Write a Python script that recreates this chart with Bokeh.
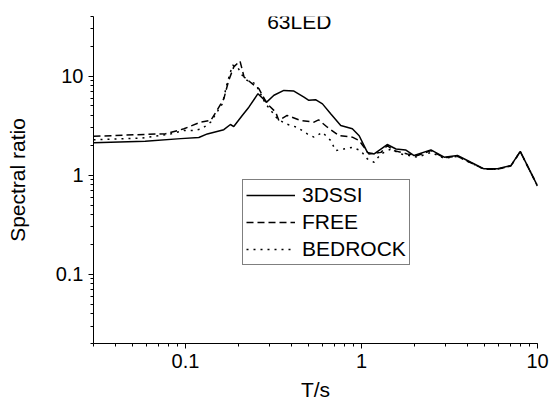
from bokeh.plotting import figure
from bokeh.models import FixedTicker, Label, Legend, LegendItem
from bokeh.embed import file_html
from bokeh.resources import INLINE

# ---- data ----
t_3dssi = [0.03, 0.059, 0.094, 0.119, 0.133, 0.165, 0.180, 0.188, 0.21, 0.229, 0.258, 0.289,
           0.318, 0.362, 0.413, 0.471, 0.502, 0.548, 0.60, 0.668, 0.762, 0.887, 0.97, 1.08,
           1.18, 1.40, 1.57, 1.78, 1.99, 2.48, 2.95, 3.51, 4.18, 4.97, 5.93, 7.06, 7.98, 10.0]
r_3dssi = [2.13, 2.20, 2.34, 2.40, 2.61, 2.88, 3.25, 3.10, 4.01, 4.86, 6.65, 5.47,
           6.41, 7.18, 7.06, 6.14, 5.70, 5.78, 5.25, 4.17, 3.17, 2.94, 2.50, 1.70,
           1.64, 2.04, 1.84, 1.80, 1.58, 1.80, 1.52, 1.58, 1.35, 1.16, 1.16, 1.25, 1.74, 0.78]

t_free = [0.03, 0.059, 0.077, 0.098, 0.122, 0.139, 0.151, 0.165, 0.176, 0.188, 0.204, 0.215,
          0.241, 0.261, 0.291, 0.325, 0.339, 0.378, 0.451, 0.537, 0.570, 0.64, 0.745, 0.887,
          0.97, 1.10, 1.29, 1.40, 1.53, 1.82, 2.08, 2.48, 2.95, 3.51, 4.18, 4.97, 5.93, 7.06,
          7.98, 10.0]
r_free = [2.47, 2.58, 2.62, 2.94, 3.44, 3.57, 4.50, 5.90, 9.06, 12.4, 14.2, 9.80,
          8.30, 7.47, 5.26, 4.34, 3.57, 4.01, 3.57, 3.43, 3.62, 3.05, 2.51, 2.42,
          2.24, 1.64, 1.70, 1.99, 1.77, 1.64, 1.58, 1.77, 1.50, 1.55, 1.33, 1.15, 1.15, 1.24,
          1.73, 0.78]

t_bedrock = [0.03, 0.056, 0.082, 0.098, 0.111, 0.124, 0.139, 0.151, 0.162, 0.173, 0.185, 0.197,
             0.21, 0.224, 0.25, 0.285, 0.333, 0.371, 0.43, 0.492, 0.537, 0.60, 0.668, 0.713,
             0.794, 0.887, 0.99, 1.08, 1.18, 1.29, 1.47, 1.67, 2.08, 2.48, 2.95, 3.51, 4.18,
             4.97, 5.93, 7.06, 7.98, 10.0]
r_bedrock = [2.28, 2.37, 2.60, 2.83, 2.83, 2.94, 3.44, 4.33, 5.26, 8.71, 12.9, 12.4,
             10.2, 9.06, 8.38, 5.26, 3.70, 3.30, 3.05, 2.61, 2.42, 2.71, 2.24, 1.77,
             1.84, 1.91, 1.77, 1.46, 1.35, 1.64, 1.84, 1.64, 1.52, 1.70, 1.48, 1.55, 1.33,
             1.15, 1.15, 1.24, 1.73, 0.78]

series_names = ["3DSSI", "FREE", "BEDROCK"]
major_ticks = [0.1, 1, 10]
major_labels = ["0.1", "1", "10"]
title_text = "63LED"
x_label = "T/s"
y_label = "Spectral ratio"

FONT = "Liberation Sans"

p = figure(width=549, height=410, x_axis_type="log", y_axis_type="log",
           x_range=(0.03, 10), y_range=(0.02, 40),
           output_backend="svg", toolbar_location=None,
           min_border_left=93, min_border_right=12, min_border_top=16, min_border_bottom=67)
p.outline_line_color = None
p.xgrid.visible = False
p.ygrid.visible = False
p.background_fill_color = "white"
p.border_fill_color = "white"

def minor_list(lo_exp, hi_exp):
    out = []
    for e in range(lo_exp, hi_exp + 1):
        for k in range(1, 10):
            out.append(k * 10.0 ** e)
    return out

p.xaxis.ticker = FixedTicker(ticks=major_ticks, minor_ticks=minor_list(-2, 1))
p.yaxis.ticker = FixedTicker(ticks=major_ticks, minor_ticks=minor_list(-2, 1))
overrides = {m: l for m, l in zip(major_ticks, major_labels)}
p.xaxis.major_label_overrides = overrides
p.yaxis.major_label_overrides = overrides

for ax in (p.xaxis, p.yaxis):
    ax.axis_line_color = "black"
    ax.axis_line_width = 1
    ax.major_tick_line_color = "black"
    ax.minor_tick_line_color = "black"
    ax.major_tick_out = 5
    ax.major_tick_in = 0
    ax.minor_tick_out = 3
    ax.minor_tick_in = 0
    ax.major_label_text_font = FONT
    ax.major_label_text_font_size = "20px"
    ax.major_label_text_color = "black"
    ax.major_label_standoff = 5
    ax.axis_label_text_font = FONT
    ax.axis_label_text_font_size = "21px"
    ax.axis_label_text_font_style = "normal"
    ax.axis_label_text_color = "black"

p.xaxis.axis_label = x_label
p.yaxis.axis_label = y_label
p.xaxis.axis_label_standoff = 7
p.yaxis.axis_label_standoff = 24

r1 = p.line(t_3dssi, r_3dssi, line_color="black", line_width=1.5)
r2 = p.line(t_free, r_free, line_color="black", line_width=1.5, line_dash="7 4")
r3 = p.line(t_bedrock, r_bedrock, line_color="black", line_width=1.5, line_dash="2 5")

legend = Legend(items=[LegendItem(label=n, renderers=[r]) for n, r in zip(series_names, [r1, r2, r3])],
                location=(149, 78))
legend.border_line_color = "black"
legend.border_line_width = 1
legend.background_fill_alpha = 1
legend.label_text_font = FONT
legend.label_text_font_size = "21px"
legend.label_text_color = "black"
legend.glyph_width = 49
legend.glyph_height = 24
legend.label_height = 24
legend.label_standoff = 7
legend.spacing = 3
legend.padding = 3
legend.margin = 0
p.add_layout(legend, "center")

p.add_layout(Label(x=0.443, y=36, text=title_text, text_font=FONT, text_font_size="21px",
                   text_align="center", text_baseline="middle", text_color="black"))

open("out.html", "w").write(file_html(p, INLINE))
